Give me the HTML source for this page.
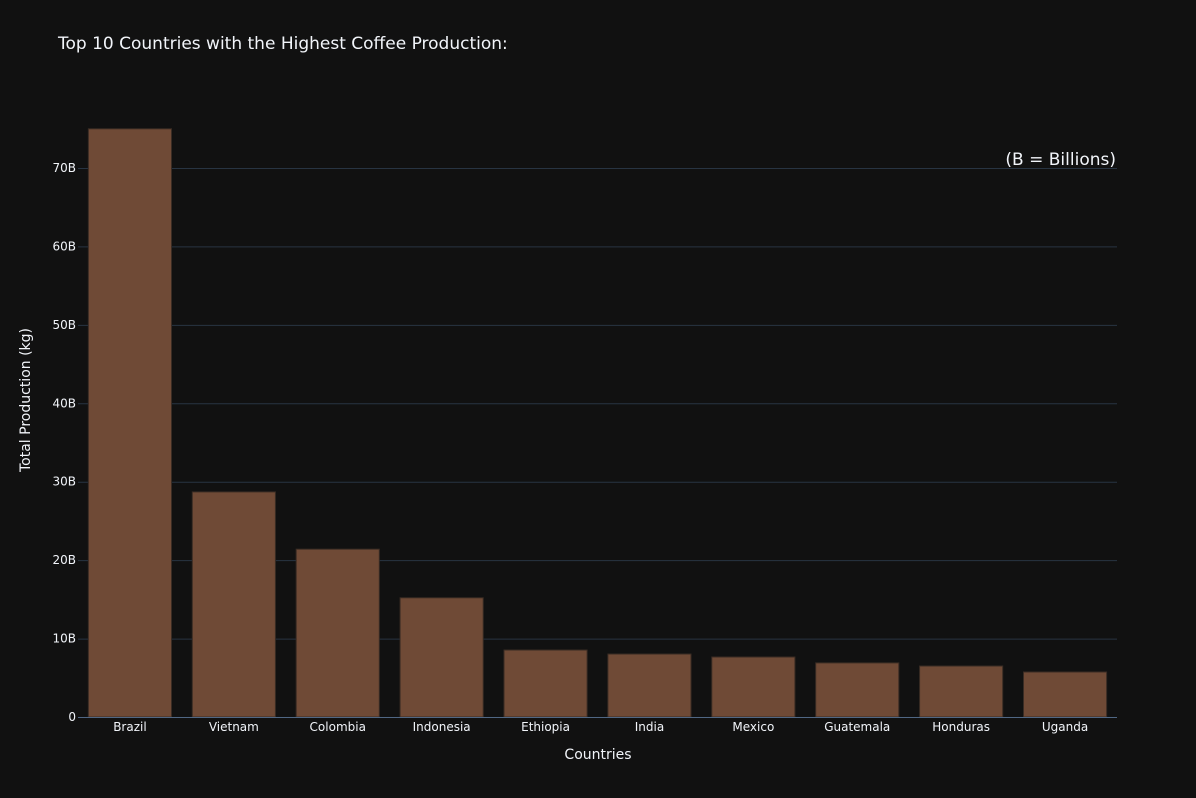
<!DOCTYPE html>
<html><head><meta charset="utf-8"><style>
html,body{margin:0;padding:0;background:#111111;}
svg{display:block;font-family:"DejaVu Sans","Liberation Sans",sans-serif;}
</style></head><body>
<svg id="chart" width="1196" height="798">
<rect width="1196" height="798" fill="#111111"/>
<text x="58" y="49" font-size="17" fill="#f2f5fa">Top 10 Countries with the Highest Coffee Production:</text>
<g id="grid"></g><g id="bars"></g><g id="xticks"></g><g id="yticks"></g>
<line x1="78" x2="1117" y1="717.5" y2="717.5" stroke="#506784" stroke-width="1"/>
<text x="598" y="759" font-size="14" fill="#f2f5fa" text-anchor="middle">Countries</text>
<text transform="translate(30,400) rotate(-90)" font-size="14" fill="#f2f5fa" text-anchor="middle">Total Production (kg)</text>
<text x="1116" y="165" font-size="17" fill="#f2f5fa" text-anchor="end">(B = Billions)</text>
</svg>
<script>
const categories=["Brazil","Vietnam","Colombia","Indonesia","Ethiopia","India","Mexico","Guatemala","Honduras","Uganda"];
const values=[75.0,28.7,21.4,15.2,8.54,8.03,7.65,6.9,6.5,5.74];
const yTicks=[0,10,20,30,40,50,60,70];
const yTickLabels=["0","10B","20B","30B","40B","50B","60B","70B"];
const NS="http://www.w3.org/2000/svg";
const x0=78,x1=1117,yBase=717,pxPer=(717-168)/70;
const band=(x1-x0)/categories.length;
const xs=i=>x0+band*i+band/2;
const ys=v=>yBase-v*pxPer;
function mk(t,a,p){const e=document.createElementNS(NS,t);for(const k in a)e.setAttribute(k,a[k]);p.appendChild(e);return e;}
const grid=document.getElementById('grid'),bars=document.getElementById('bars'),xt=document.getElementById('xticks'),yt=document.getElementById('yticks');
yTicks.forEach((v,i)=>{
 if(v>0){const l=mk('line',{x1:x0,x2:x1,y1:ys(v)+0.5,y2:ys(v)+0.5,stroke:'#283442','stroke-width':1},grid);
 
 }
 const t=mk('text',{x:x0-2,y:ys(v)+4,'font-size':12,fill:'#f2f5fa','text-anchor':'end'},yt);t.textContent=yTickLabels[i];
 
 
});
categories.forEach((c,i)=>{
 const w=band*0.8;
 const r=mk('rect',{x:xs(i)-w/2,y:ys(values[i]),width:w,height:values[i]*pxPer,fill:'#6f4a36',stroke:'#3a2c24','stroke-width':1},bars);
 
 
 const t=mk('text',{x:xs(i),y:731,'font-size':12,fill:'#f2f5fa','text-anchor':'middle'},xt);t.textContent=c;
 
 
});
</script>
</body></html>
